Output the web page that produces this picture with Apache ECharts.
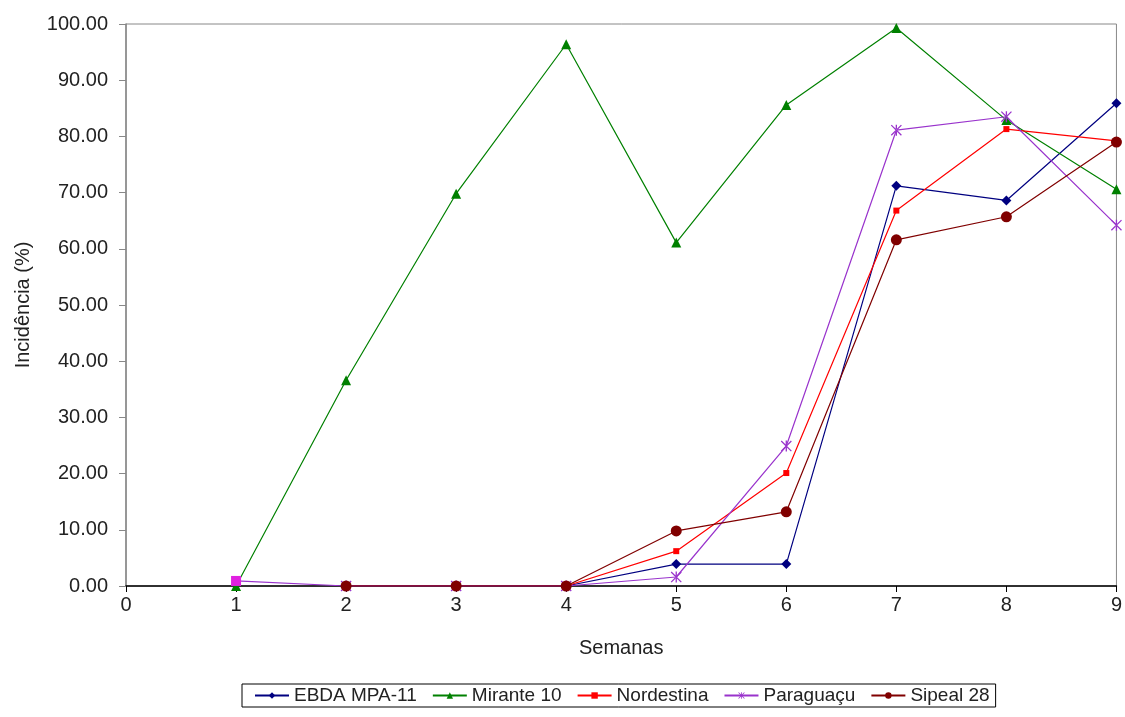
<!DOCTYPE html>
<html><head><meta charset="utf-8">
<script src="https://cdn.jsdelivr.net/npm/echarts@6/dist/echarts.min.js"></script>
<style>html,body{margin:0;padding:0;background:#fff}#c{width:1125px;height:717px}</style>
</head><body><div id="c"></div>
<script>
const weeksEbda = [2,3,4,5,6,7,8,9];
const ebda = [0,0,0,3.9,3.9,71.2,68.6,85.9];
const weeksMirante = [1,2,3,4,5,6,7,8,9];
const mirante = [0,36.6,69.8,96.4,61.1,85.6,99.3,82.9,70.6];
const weeksNord = [2,3,4,5,6,7,8,9];
const nordestina = [0,0,0,6.2,20.1,66.8,81.3,79.2];
const weeksPar = [1,2,3,4,5,6,7,8,9];
const paraguacu = [0.9,0,0,0,1.6,24.9,81.1,83.5,64.2];
const weeksSip = [2,3,4,5,6,7,8,9];
const sipeal = [0,0,0,9.8,13.2,61.6,65.7,79.0];
const names = ['EBDA MPA-11','Mirante 10','Nordestina','Paraguaçu','Sipeal 28'];
const xTicks = [0,1,2,3,4,5,6,7,8,9];

function pairs(xs, ys){ return xs.map((x,i)=>[x,ys[i]]); }
const parData = pairs(weeksPar, paraguacu).map((p,i)=> i===0 ? {value:p, symbol:'rect', symbolSize:10, itemStyle:{color:'#e020e0', borderWidth:0}} : p);

const star = 'path://M4.4,0h1.2v10h-1.2z M0,0.8L0.8,0L10,9.2L9.2,10z M10,0.8L9.2,0L0,9.2L0.8,10z';
const font = 'Liberation Sans, Arial, sans-serif';
const chart = echarts.init(document.getElementById('c'));
function ser(name, data, color, symbol, size){
  return {name, type:'line', data, color, symbol, symbolSize:size, showSymbol:true,
    lineStyle:{width:1.2,color}, itemStyle:{color}, animation:false, z:2};
}
chart.setOption({
  animation:false,
  backgroundColor:'#fff',
  grid:{left:126,right:5,top:24,bottom:131,show:true,borderColor:'#888',borderWidth:1},
  xAxis:{type:'value',min:0,max:9,interval:1,name:'Semanas',nameLocation:'middle',nameGap:52,
    nameTextStyle:{fontFamily:font,fontSize:20,color:'#222'},
    axisLine:{onZero:false,lineStyle:{color:'#000',width:1.5}},
    axisTick:{show:true,length:6,lineStyle:{color:'#000'}},
    axisLabel:{fontFamily:font,fontSize:20,color:'#222',margin:9,showMaxLabel:true,
      formatter:v=>String(xTicks[v])},
    splitLine:{show:false}},
  yAxis:{type:'value',min:0,max:100,interval:10,name:'Incidência (%)',nameLocation:'middle',nameGap:93,
    nameTextStyle:{fontFamily:font,fontSize:20,color:'#222'},
    axisLine:{show:true,lineStyle:{color:'#888',width:1.5}},
    axisTick:{show:true,length:7,lineStyle:{color:'#888'}},
    axisLabel:{fontFamily:font,fontSize:20,color:'#222',margin:18,formatter:v=>v.toFixed(2)},
    splitLine:{show:false}},
  legend:{top:684,left:242,data:names,itemWidth:34,itemHeight:8,itemGap:15,
    borderColor:'#000',borderWidth:1,padding:[2,6,2,12],
    textStyle:{fontFamily:font,fontSize:19,color:'#222'}},
  series:[
    ser(names[0], pairs(weeksEbda, ebda), '#000080', 'diamond', 10),
    ser(names[1], pairs(weeksMirante, mirante), '#008000', 'triangle', 10),
    ser(names[2], pairs(weeksNord, nordestina), '#ff0000', 'rect', 6),
    ser(names[3], parData, '#9933cc', star, 11),
    ser(names[4], pairs(weeksSip, sipeal), '#800000', 'circle', 11)
  ]
});
</script></body></html>
